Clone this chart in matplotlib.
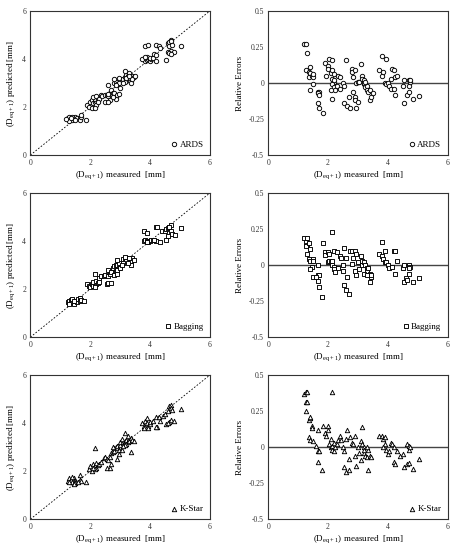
import matplotlib
matplotlib.use("Agg")
import numpy as np
import matplotlib.pyplot as plt

plt.rcParams['font.family'] = ['Liberation Serif', 'DejaVu Serif']
plt.rcParams['mathtext.fontset'] = 'custom'
plt.rcParams['mathtext.rm'] = 'Liberation Serif'

# ---- ARDS: measured vs predicted
ards_meas = [1.25, 1.3, 1.35, 1.4, 1.3, 1.45, 1.5, 1.4, 1.55, 1.35, 1.65, 1.65, 1.7, 1.7, 1.85, 1.2, 1.5,
             1.9, 1.95, 2.0, 2.05, 2.1, 2.15, 2.2, 2.15, 2.2, 2.25, 2.1, 2.2, 2.3, 2.05, 2.15, 2.25, 2.35, 2.4,
             2.5, 2.55, 2.6, 2.6, 2.65, 2.5, 2.6, 2.7, 2.6,
             2.8, 2.85, 2.9, 2.95, 2.85, 2.8, 2.95, 2.75, 2.8, 2.85, 2.9, 2.95, 2.75, 3.0,
             3.1, 3.15, 3.2, 3.25, 3.3, 3.2, 3.3, 3.35, 3.4, 3.45, 3.15, 3.35, 3.4, 3.1, 3.15, 3.2, 3.3, 3.5,
             3.8, 3.85, 3.9, 3.95, 4.0, 4.05, 3.9, 4.0, 3.75, 3.85, 4.1, 4.2, 3.85, 3.95, 4.15, 4.2, 4.3, 4.35, 4.2,
             4.6, 4.65, 4.7, 4.7, 4.65, 4.75, 4.6, 4.7, 4.8, 4.55, 4.65, 5.05, 4.7]
ards_pred = [1.55, 1.6, 1.5, 1.45, 1.4, 1.55, 1.6, 1.6, 1.55, 1.55, 1.55, 1.45, 1.6, 1.65, 1.45, 1.5, 1.45,
             2.1, 2.0, 2.2, 2.3, 2.15, 2.2, 2.25, 2.35, 2.1, 2.3, 2.4, 2.45, 2.35, 1.95, 1.95, 2.2, 2.5, 2.45,
             2.5, 2.5, 2.45, 2.55, 2.3, 2.2, 2.2, 2.7, 2.9,
             3.0, 3.05, 2.95, 3.0, 2.9, 3.15, 3.2, 2.6, 2.6, 2.35, 2.5, 2.55, 2.4, 2.8,
             3.15, 3.25, 3.35, 3.3, 3.2, 3.1, 3.4, 3.25, 3.3, 3.25, 3.05, 3.0, 3.15, 3.0, 3.5, 3.2, 3.3, 3.3,
             4.0, 3.9, 3.95, 4.0, 3.9, 4.0, 4.1, 4.05, 4.0, 4.1, 4.05, 3.9, 4.55, 4.6, 4.2, 4.6, 4.55, 4.45, 4.15,
             4.65, 4.7, 4.8, 4.75, 4.55, 4.6, 4.3, 4.35, 4.3, 3.95, 4.25, 4.55, 4.2]

# ---- ARDS: relative errors
ards_err_x = [1.2, 1.25, 1.3, 1.25, 1.35, 1.4, 1.35, 1.4, 1.45, 1.5, 1.5, 1.5, 1.4, 1.65, 1.7, 1.65, 1.7, 1.65,
              1.7, 1.85, 1.9, 1.95, 2.0, 2.0, 2.05, 2.15, 2.1, 2.15, 2.2, 2.15, 2.2, 2.15, 2.2, 2.25, 2.1, 2.2,
              2.15, 2.3, 2.35, 2.4, 2.4, 2.5, 2.55, 2.6, 2.55, 2.65, 2.7, 2.75, 2.8, 2.8, 2.85, 2.9, 2.85, 2.9,
              2.9, 2.95, 3.0, 2.95, 3.0, 3.05, 3.1, 3.15, 3.15, 3.2, 3.2, 3.25, 3.3, 3.3, 3.35, 3.4, 3.4, 3.45,
              3.5, 3.2, 3.25, 3.7, 3.8, 3.85, 3.8, 3.95, 3.9, 3.95, 4.0, 4.05, 4.1, 4.1, 4.15, 4.2, 4.25, 4.3,
              4.2, 4.25, 4.5, 4.55, 4.55, 4.65, 4.7, 4.7, 4.7, 4.75, 4.75, 4.85, 5.05]
ards_err = [0.27, 0.27, 0.21, 0.09, 0.08, 0.11, 0.04, 0.07, 0.05, 0.04, 0.06, -0.01, -0.05, -0.06, -0.06, -0.07,
            -0.08, -0.14, -0.17, -0.21, 0.14, 0.05, 0.12, 0.10, 0.17, 0.16, 0.07, 0.09, 0.06, 0.03, 0.01, -0.01,
            -0.03, -0.05, -0.05, 0.02, -0.11, -0.02, 0.05, 0.04, -0.04, 0.0, -0.02, 0.16, -0.14, -0.16, -0.10,
            -0.17, 0.10, 0.08, 0.04, 0.09, -0.06, -0.10, -0.12, -0.17, -0.13, 0.0, 0.01, 0.01, 0.13, 0.05, 0.03,
            0.02, -0.01, -0.03, -0.02, -0.05, -0.06, -0.05, -0.12, -0.10, -0.07, 0.0, 0.01, 0.09, 0.05, 0.08,
            0.19, 0.17, 0.0, -0.01, 0.0, -0.02, -0.04, 0.03, 0.10, 0.09, 0.04, 0.05, -0.04, -0.08, -0.02, 0.02,
            -0.14, -0.08, -0.06, -0.02, 0.02, 0.01, 0.02, -0.11, -0.09]

# ---- Bagging: measured vs predicted
bag_meas = [1.25, 1.3, 1.35, 1.4, 1.45, 1.4, 1.5, 1.55, 1.3, 1.6, 1.65, 1.65, 1.7, 1.8, 1.45,
            1.9, 1.95, 2.0, 2.05, 2.1, 2.15, 2.2, 2.1, 2.2, 2.15, 2.25, 2.3, 2.15, 2.3, 2.35, 2.45, 2.5, 2.55,
            2.6, 2.7, 2.6, 2.65, 2.6, 2.75, 2.7,
            2.8, 2.85, 2.9, 2.95, 2.85, 2.9, 3.0, 2.8, 2.9, 2.95, 2.9,
            3.1, 3.15, 3.2, 3.25, 3.3, 3.35, 3.4, 3.45, 3.2, 3.3, 3.1, 3.15, 3.35, 3.25, 3.05,
            3.8, 3.85, 3.9, 3.95, 4.0, 4.05, 4.1, 4.2, 3.9, 3.8, 3.9, 4.15, 4.2, 4.25, 4.35,
            4.4, 4.5, 4.55, 4.6, 4.65, 4.7, 4.7, 4.6, 4.55, 4.75, 4.85, 5.05, 4.65]
bag_pred = [1.45, 1.5, 1.55, 1.45, 1.4, 1.6, 1.5, 1.45, 1.4, 1.6, 1.65, 1.5, 1.55, 1.5, 1.5,
            2.2, 2.15, 2.1, 2.2, 2.15, 2.25, 2.2, 2.3, 2.35, 2.1, 2.25, 2.3, 2.65, 2.45, 2.55, 2.55, 2.6, 2.2,
            2.25, 2.25, 2.55, 2.65, 2.8, 2.9, 2.7,
            2.95, 3.0, 3.0, 2.9, 2.75, 2.8, 2.9, 2.6, 2.65, 3.1, 3.2,
            3.25, 3.3, 3.3, 3.25, 3.2, 3.15, 3.3, 3.2, 3.15, 3.3, 3.1, 3.35, 3.0, 3.1, 3.0,
            4.0, 4.05, 4.0, 3.95, 4.0, 4.05, 4.05, 4.0, 3.95, 4.4, 4.35, 4.05, 4.6, 4.6, 3.95,
            4.4, 4.4, 4.5, 4.55, 4.6, 4.65, 4.4, 4.2, 4.05, 4.3, 4.25, 4.55, 4.6]

# ---- Bagging: relative errors
bag_err_x = [1.2, 1.3, 1.25, 1.3, 1.25, 1.35, 1.4, 1.3, 1.35, 1.4, 1.5, 1.5, 1.45, 1.4, 1.5, 1.65, 1.65, 1.7,
             1.6, 1.65, 1.7, 1.8, 1.85, 1.9, 1.9, 2.0, 2.05, 2.0, 2.05, 2.1, 2.15, 2.15, 2.2, 2.2, 2.25, 2.15,
             2.2, 2.3, 2.35, 2.4, 2.45, 2.5, 2.5, 2.55, 2.6, 2.55, 2.6, 2.7, 2.65, 2.75, 2.8, 2.85, 2.8, 2.9,
             2.95, 2.9, 2.95, 3.0, 3.05, 3.1, 3.15, 3.15, 3.2, 3.25, 3.3, 3.3, 3.35, 3.4, 3.45, 3.4, 3.45, 3.2,
             3.3, 3.7, 3.8, 3.8, 3.85, 3.9, 3.9, 3.95, 4.0, 4.05, 4.15, 4.2, 4.25, 4.3, 4.25, 4.5, 4.55, 4.6,
             4.55, 4.65, 4.7, 4.7, 4.75, 4.7, 4.85, 5.05]
bag_err = [0.19, 0.19, 0.16, 0.14, 0.13, 0.15, 0.11, 0.08, 0.04, 0.03, 0.04, 0.03, -0.01, -0.03, -0.08, 0.0,
           -0.07, -0.07, -0.08, -0.11, -0.15, -0.22, 0.15, 0.09, 0.07, 0.09, 0.08, 0.02, 0.03, 0.02, 0.03, 0.0,
           -0.01, -0.03, -0.05, 0.23, 0.10, 0.09, -0.02, 0.06, 0.05, 0.0, -0.04, 0.12, 0.05, -0.14, -0.17,
           -0.20, -0.08, 0.10, 0.10, 0.05, 0.01, 0.10, 0.08, -0.04, -0.07, 0.02, -0.03, 0.06, 0.03, 0.0, 0.02,
           0.0, -0.02, -0.04, -0.02, -0.06, -0.08, -0.12, -0.07, -0.06, -0.07, 0.08, 0.16, 0.06, 0.04, 0.10,
           0.02, 0.02, 0.0, -0.02, -0.01, 0.10, 0.10, 0.03, -0.06, -0.02, 0.0, -0.09, -0.12, -0.10, -0.06,
           0.0, -0.01, -0.02, -0.12, -0.09]

# ---- K-Star: measured vs predicted
ks_meas = [1.25, 1.3, 1.35, 1.4, 1.45, 1.5, 1.4, 1.3, 1.5, 1.45, 1.65, 1.7, 1.65, 1.85, 1.6,
           1.95, 2.0, 2.05, 2.1, 2.15, 2.2, 2.15, 2.25, 2.1, 2.2, 2.3, 2.15, 2.35, 2.45, 2.5, 2.55, 2.6, 2.55,
           2.65, 2.7, 2.7, 2.65, 2.75,
           2.8, 2.85, 2.9, 2.95, 3.0, 2.8, 2.9, 3.0, 2.95, 2.9, 3.05, 2.75, 3.0,
           3.1, 3.15, 3.2, 3.25, 3.3, 3.2, 3.15, 3.3, 3.35, 3.4, 3.45, 3.1, 3.15, 3.35, 3.25, 3.05,
           3.75, 3.8, 3.85, 3.9, 3.95, 4.0, 3.9, 4.0, 3.85, 3.95, 3.8, 4.1, 4.2, 4.25, 4.3, 4.35, 4.2,
           4.45, 4.5, 4.6, 4.65, 4.7, 4.7, 4.75, 4.65, 4.7, 4.8, 4.55, 4.6, 5.05]
ks_pred = [1.6, 1.7, 1.65, 1.55, 1.7, 1.6, 1.75, 1.55, 1.5, 1.45, 1.65, 1.6, 1.85, 1.55, 1.55,
           2.1, 2.2, 2.0, 2.3, 2.2, 2.15, 2.1, 2.25, 2.15, 2.35, 2.3, 2.95, 2.4, 2.55, 2.6, 2.5, 2.45, 2.15,
           2.15, 2.3, 2.75, 2.6, 2.8,
           2.95, 3.0, 2.95, 2.9, 3.0, 2.85, 3.05, 3.1, 2.7, 2.5, 2.9, 3.0, 3.2,
           3.2, 3.25, 3.3, 3.2, 3.35, 3.15, 3.1, 3.25, 3.4, 3.3, 3.25, 3.05, 3.6, 2.8, 3.45, 3.35,
           4.0, 3.9, 4.1, 4.0, 3.9, 3.95, 4.2, 4.05, 3.85, 3.8, 3.8, 4.1, 4.25, 3.85, 4.25, 4.1, 3.85,
           4.3, 4.4, 4.5, 4.7, 4.75, 4.65, 4.55, 4.05, 4.15, 4.1, 3.95, 4.0, 4.6]

# ---- K-Star: relative errors
ks_err_x = [1.2, 1.25, 1.3, 1.25, 1.3, 1.25, 1.35, 1.4, 1.4, 1.45, 1.45, 1.35, 1.4, 1.5, 1.6, 1.65, 1.7, 1.65,
            1.65, 1.8, 1.85, 1.9, 1.95, 2.0, 2.0, 2.05, 2.1, 2.15, 2.15, 2.2, 2.25, 2.15, 2.1, 2.2, 2.3, 2.35,
            2.4, 2.45, 2.5, 2.55, 2.6, 2.65, 2.55, 2.6, 2.7, 2.7, 2.75, 2.8, 2.85, 2.9, 2.9, 2.95, 3.0, 3.05,
            3.1, 3.15, 3.15, 3.2, 3.2, 3.25, 3.3, 3.35, 3.4, 3.45, 3.1, 3.2, 3.3, 3.35, 3.7, 3.8, 3.85, 3.9,
            3.9, 3.85, 3.95, 4.0, 4.05, 4.1, 4.15, 4.2, 4.2, 4.25, 4.3, 4.4, 4.5, 4.55, 4.65, 4.7, 4.65, 4.7,
            4.7, 4.75, 4.85, 5.05]
ks_err = [0.37, 0.38, 0.38, 0.31, 0.31, 0.25, 0.19, 0.20, 0.21, 0.15, 0.13, 0.07, 0.05, 0.04, 0.01, -0.03,
          -0.03, 0.12, -0.10, -0.16, 0.15, 0.10, 0.08, 0.15, 0.12, 0.02, 0.0, 0.01, -0.02, -0.03, 0.0, 0.38,
          0.06, 0.03, 0.02, 0.05, 0.08, 0.05, 0.0, -0.03, 0.06, 0.12, -0.14, -0.17, -0.16, -0.08, 0.07, 0.03,
          0.02, -0.06, 0.08, -0.13, 0.0, -0.04, 0.04, 0.14, 0.02, 0.0, -0.04, -0.06, -0.07, -0.02, -0.06,
          -0.07, -0.09, -0.02, 0.0, -0.16, 0.08, 0.08, 0.06, 0.07, 0.02, 0.0, -0.02, -0.05, -0.03, 0.03, 0.02,
          0.0, -0.10, -0.12, -0.03, -0.06, -0.05, -0.14, -0.12, -0.11, 0.02, 0.01, -0.02, 0.0, -0.15, -0.08]

models = ['ARDS', 'Bagging', 'K-Star']
markers = ['o', 's', '^']
pred_data = [(ards_meas, ards_pred), (bag_meas, bag_pred), (ks_meas, ks_pred)]
err_data = [(ards_err_x, ards_err), (bag_err_x, bag_err), (ks_err_x, ks_err)]

xlab = r'(D$_{\rm eq+1}$) measured  [mm]'
ylab = r'(D$_{\rm eq+1}$) predicted [mm]'

fig = plt.figure(figsize=(4.6, 5.5), dpi=100)
rows_bottom = [0.718, 0.387, 0.056]
h = 0.262
w = 0.39

def style(ax):
    for s in ax.spines.values():
        s.set_color('#333333')
        s.set_linewidth(0.8)
    ax.tick_params(length=0, labelsize=5.5, pad=3, colors='#333333')

for i in range(3):
    # left: predicted vs measured
    ax = fig.add_axes([0.066, rows_bottom[i], w, h])
    ax.plot([0, 6], [0, 6], ls=(0, (2, 2)), color='black', lw=0.6, zorder=1)
    m, p = pred_data[i]
    ax.scatter(m, p, s=10, marker=markers[i], facecolors='white', edgecolors='black',
               linewidths=0.65, label=models[i], zorder=2)
    ax.set_xlim(0, 6)
    ax.set_ylim(0, 6)
    ax.set_xticks([0, 2, 4, 6])
    ax.set_yticks([0, 2, 4, 6])
    ax.set_xlabel(xlab, fontsize=6.5, labelpad=2)
    ax.set_ylabel(ylab, fontsize=6.5, labelpad=3)
    style(ax)
    ax.legend(loc='lower right', frameon=False, fontsize=6.5, handletextpad=0.1,
              borderaxespad=0.3, markerscale=1.0, handlelength=1.0)

    # right: relative errors
    ax2 = fig.add_axes([0.583, rows_bottom[i], w, h])
    ax2.axhline(0, color='#444444', lw=1.0, zorder=1)
    ex, ey = err_data[i]
    ax2.scatter(ex, ey, s=10, marker=markers[i], facecolors='white', edgecolors='black',
                linewidths=0.65, label=models[i], zorder=2)
    ax2.set_xlim(0, 6)
    ax2.set_ylim(-0.5, 0.5)
    ax2.set_xticks([0, 2, 4, 6])
    ax2.set_yticks([-0.5, -0.25, 0, 0.25, 0.5])
    ax2.set_yticklabels(['-0.5', '-0.25', '0', '0.25', '0.5'])
    ax2.set_xlabel(xlab, fontsize=6.5, labelpad=2)
    ax2.set_ylabel('Relative Errors', fontsize=6.5, labelpad=3)
    style(ax2)
    ax2.legend(loc='lower right', frameon=False, fontsize=6.5, handletextpad=0.1,
               borderaxespad=0.3, markerscale=1.0, handlelength=1.0)

fig.savefig('out.png', dpi=100)
